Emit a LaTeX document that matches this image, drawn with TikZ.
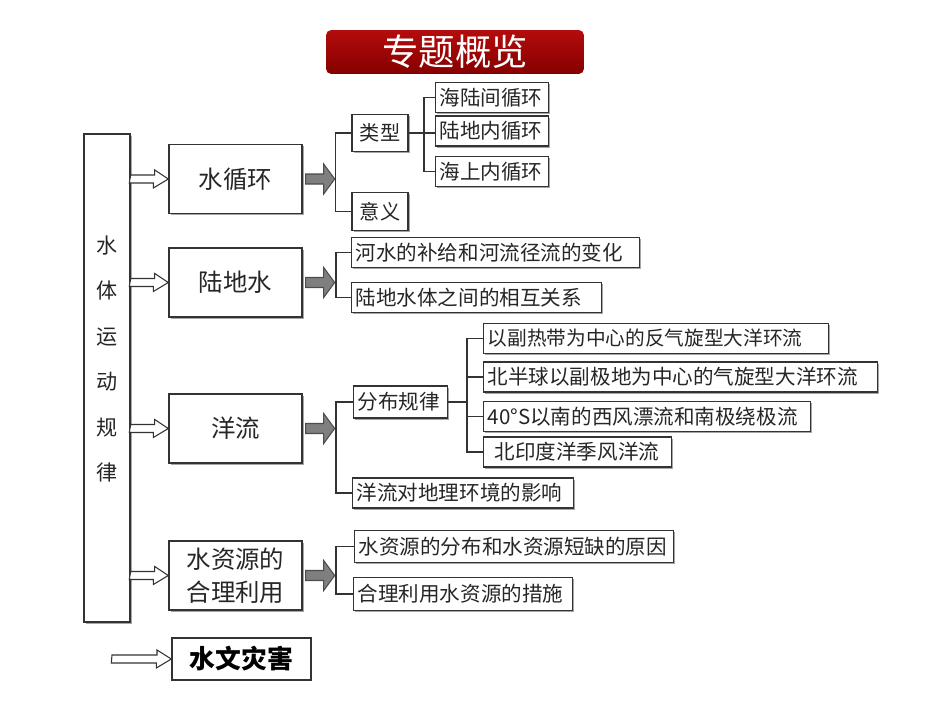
\documentclass[tikz,border=0pt]{standalone}
\usepackage{fontspec}
\setmainfont{Noto Sans CJK SC}
\newfontfamily\hei{Noto Sans CJK SC}
\usetikzlibrary{shadows}
\definecolor{titletop}{HTML}{B40C0C}
\definecolor{titlebot}{HTML}{860000}
\definecolor{arrowgray}{HTML}{7F7F7F}

\begin{document}
\begin{tikzpicture}[x=0.02cm,y=-0.02cm,line join=miter,
  every node/.style={text=black!85},
  box/.style={draw=black!80,line width=0.8pt,fill=white,inner sep=0pt,
    drop shadow={shadow xshift=0.9pt,shadow yshift=-0.9pt,fill=black!35,opacity=1}},
  bigbox/.style={box,minimum width=2.66cm,minimum height=1.38cm,align=center,
    font=\fontsize{13.9}{18.5}\selectfont},
  tag/.style={box,minimum width=1.12cm,minimum height=0.75cm,font=\fontsize{11.5}{13}\selectfont},
  leaf/.style={box,anchor=west,minimum height=0.6cm,inner xsep=0.08cm,text width=#1,
    align=left,font=\fontsize{11.7}{13}\selectfont},
  link/.style={draw=black!80,line width=0.7pt},
  hollow/.style={draw=black!80,line width=0.6pt,fill=white},
  grayarrow/.style={draw=black!70,line width=0.6pt,fill=arrowgray}]
  \useasboundingbox (0,0) rectangle (950,713);
  % 标题
  \node[top color=titletop,bottom color=titlebot,rounded corners=3pt,inner sep=0pt,
    minimum width=5.16cm,minimum height=0.88cm,text=white,
    font=\hei\fontsize{20.7}{24}\selectfont] (title) at (455,52) {专题概览};
  % 左侧总框
  \node[box,minimum width=0.92cm,minimum height=9.76cm] (main) at (107,378) {};
  \node[align=center,font=\fontsize{12}{25.9}\selectfont] (maintxt) at (107,359)
    {水\\体\\运\\动\\规\\律};
  % 四个主题
  \node[bigbox] (sxh)  at (235.5,179)   {水循环};
  \node[bigbox] (ldsh) at (235.5,282.5) {陆地水};
  \node[bigbox] (yl)   at (235.5,428.5) {洋流};
  \node[bigbox] (szy)  at (235.5,575.5) {水资源的\\合理利用};
  \node[draw=black!80,line width=0.8pt,inner sep=0pt,minimum width=2.78cm,minimum height=0.84cm,
    text=black,font=\hei\bfseries\fontsize{14.7}{16}\selectfont] (swzh) at (241.5,659) {水文灾害};
  \foreach \b in {sxh,ldsh,yl,szy} {
    \draw[hollow] (main.east |- \b.west) ++(0,-4) -- ++(24,0) -- ++(0,-5) -- (\b.west)
      -- ++(-15,9) -- ++(0,-5) -- ++(-24,0) -- cycle;
    \draw[grayarrow] (\b.east) ++(3,-5) -- ++(18,0) -- ++(0,-10) -- ++(11,15)
      -- ++(-11,15) -- ++(0,-10) -- ++(-18,0) -- cycle;
  }
  \coordinate (swstart) at (112,659);
  \draw[hollow] (swstart) ++(0,-4) -- ++(45,0) -- ++(0,-5) -- (swzh.west)
    -- ++(-15,9) -- ++(0,-5) -- ++(-45,0) -- cycle;
  % 水循环
  \node[tag] (leixing) at (380,133)   {类型};
  \node[tag] (yiyi)    at (380,211.5) {意义};
  \node[leaf=2.1cm] (hlj) at (435,97.5)  {海陆间循环};
  \node[leaf=2.1cm] (ldn) at (435,131)   {陆地内循环};
  \node[leaf=2.1cm] (hsn) at (435,171.5) {海上内循环};
  \draw[link] (leixing.west) -- ++(-16,0) |- (yiyi.west);
  \draw[link] (hlj.west) -- ++(-11,0) |- (hsn.west);
  \draw[link] (leixing.east) -- (leixing.east -| ldn.west);
  % 陆地水
  \node[leaf=5.6cm]  (hsbj) at (351,252.5) {河水的补给和河流径流的变化};
  \node[leaf=4.84cm] (ldst) at (351,297.5) {陆地水体之间的相互关系};
  \draw[link] (hsbj.west) -- ++(-15,0) |- (ldst.west);
  % 洋流
  \node[leaf=1.72cm,minimum height=0.64cm] (fbgl) at (353,402) {分布规律};
  \node[leaf=4.26cm] (yldx) at (352,493) {洋流对地理环境的影响};
  \node[leaf=6.74cm,font=\fontsize{11.2}{13}\selectfont] (fb1) at (483,338.5) {以副热带为中心的反气旋型大洋环流};
  \node[leaf=7.72cm] (fb2) at (483,377)   {北半球以副极地为中心的气旋型大洋环流};
  \node[leaf=6.38cm] (fb3) at (483,416.5) {40°S以南的西风漂流和南极绕极流};
  \node[leaf=3.6cm]  (fb4) at (483,452)   {\hspace*{0.14cm}北印度洋季风洋流};
  \draw[link] (fbgl.west) -- ++(-17,0) |- (yldx.west);
  \draw[link] (fb1.west) -- ++(-16,0) |- (fb4.west);
  \draw[link] (fb2.west) -- ++(-16,0);
  \draw[link] (fb3.west) -- ++(-16,0);
  \draw[link] (fbgl.east) -- ++(20,0);
  % 水资源
  \node[leaf=6.22cm,minimum height=0.64cm] (szy1) at (354,546.5) {水资源的分布和水资源短缺的原因};
  \node[leaf=4.22cm,minimum height=0.66cm] (szy2) at (353,594)   {合理利用水资源的措施};
  \draw[link] (szy1.west) -- ++(-18,0) |- (szy2.west);
\end{tikzpicture}
\end{document}
